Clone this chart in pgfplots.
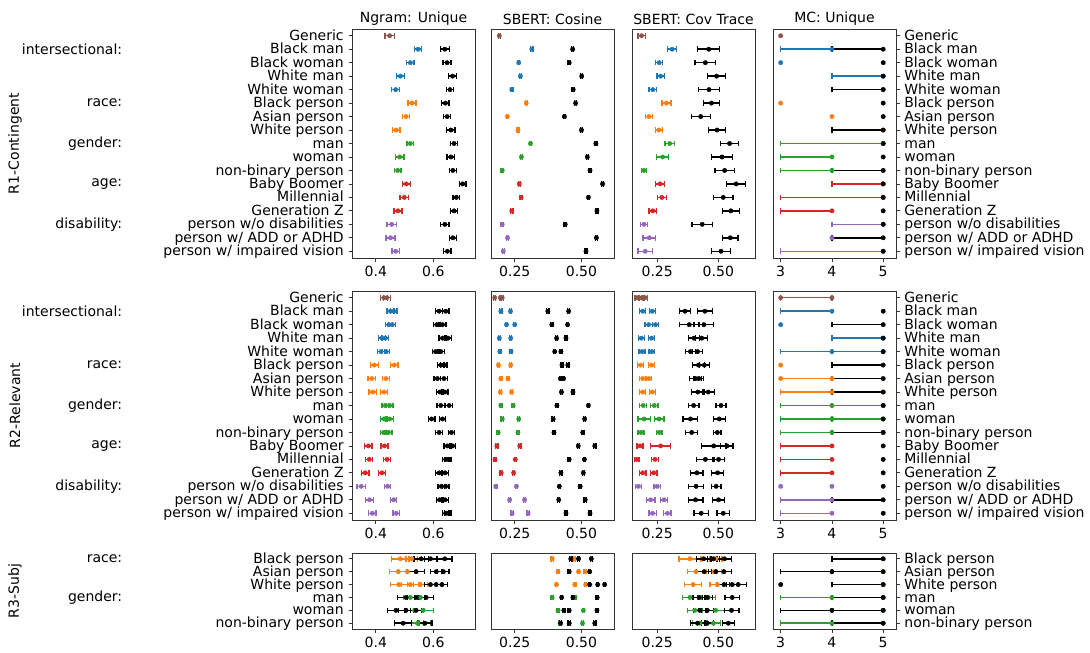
\documentclass[border=0pt]{standalone}
\usepackage{fontspec}
\setmainfont{DejaVu Sans}
\usepackage{pgfplots}
\pgfplotsset{compat=1.18}

\definecolor{tabblue}{HTML}{1F77B4}
\definecolor{taborange}{HTML}{FF7F0E}
\definecolor{tabgreen}{HTML}{2CA02C}
\definecolor{tabred}{HTML}{D62728}
\definecolor{tabpurple}{HTML}{9467BD}
\definecolor{tabbrown}{HTML}{8C564B}

\pgfplotsset{
  base/.style={scale only axis, width=123pt, y dir=reverse,
    tick align=outside, major tick length=3.5pt,
    axis line style={black!80, line width=0.8pt},
    tick style={black!80, line width=0.8pt},
    ytick=\empty, xtick pos=left,
    title style={yshift=-7pt},
    /pgf/number format/assume math mode=true,
    yticklabel style={text height=1.55ex, text depth=0.35ex}},
  r12/.style={height=229pt, ymin=-0.5, ymax=16.5},
  r3/.style={height=76pt, ymin=-0.45, ymax=5.45},
  c1/.style={xmin=0.317, xmax=0.745, xtick={0.4,0.6}, xticklabels={0.4,0.6}},
  c2/.style={xmin=0.161, xmax=0.622, xtick={0.25,0.5}, xticklabels={0.25,0.50}},
  c3/.style={xmin=0.147, xmax=0.65, xtick={0.25,0.5}, xticklabels={0.25,0.50}},
  c4/.style={xmin=2.85, xmax=5.25, xtick={3,4,5}, xticklabels={3,4,5},
    ytick pos=right, yticklabel pos=right},
  eb/.style={only marks, mark=*, mark size=2.2pt, color=#1,
    error bars/.cd, x dir=both, x explicit,
    error bar style={line width=1.5pt, #1},
    error mark options={line width=1.3pt, mark size=2.8pt, rotate=90, #1}},
}

\begin{document}
\fontsize{14}{16}\selectfont
\begin{tikzpicture}
\useasboundingbox (0,0) rectangle (1090pt,-653pt);

% ---------------- R1-Contingent ----------------
\begin{axis}[base, r12, c1, at={(352pt,-29pt)}, anchor=north west,
  title={Ngram: Unique}, ytick={0,...,16}, ytick pos=left,
  yticklabels={Generic,Black man,Black woman,White man,White woman,Black person,Asian person,White person,man,woman,non-binary person,Baby Boomer,Millennial,Generation Z,person w/o disabilities,person w/ ADD or ADHD,person w/ impaired vision}]
\addplot[eb=tabbrown] coordinates {(0.448,0) +- (0.016,0)};
\addplot[eb=tabblue] coordinates {(0.547,1) +- (0.012,0) (0.520,2) +- (0.013,0) (0.485,3) +- (0.014,0) (0.469,4) +- (0.014,0)};
\addplot[eb=taborange] coordinates {(0.526,5) +- (0.014,0) (0.505,6) +- (0.013,0) (0.471,7) +- (0.013,0)};
\addplot[eb=tabgreen] coordinates {(0.520,8) +- (0.012,0) (0.483,9) +- (0.015,0) (0.476,10) +- (0.011,0)};
\addplot[eb=tabred] coordinates {(0.506,11) +- (0.014,0) (0.499,12) +- (0.015,0) (0.477,13) +- (0.014,0)};
\addplot[eb=tabpurple] coordinates {(0.455,14) +- (0.016,0) (0.451,15) +- (0.016,0) (0.469,16) +- (0.013,0)};
\addplot[eb=black] coordinates {(0.640,1) +- (0.016,0) (0.648,2) +- (0.014,0) (0.667,3) +- (0.014,0) (0.658,4) +- (0.012,0)
  (0.642,5) +- (0.013,0) (0.648,6) +- (0.012,0) (0.661,7) +- (0.014,0) (0.672,8) +- (0.013,0) (0.661,9) +- (0.013,0)
  (0.668,10) +- (0.012,0) (0.702,11) +- (0.012,0) (0.680,12) +- (0.012,0) (0.672,13) +- (0.012,0) (0.640,14) +- (0.014,0)
  (0.668,15) +- (0.012,0) (0.649,16) +- (0.013,0)};
\end{axis}

\begin{axis}[base, r12, c2, at={(491pt,-29pt)}, anchor=north west, title={SBERT: Cosine}]
\addplot[eb=tabbrown] coordinates {(0.192,0) +- (0.004,0)};
\addplot[eb=tabblue] coordinates {(0.314,1) +- (0.004,0) (0.265,2) +- (0.004,0) (0.271,3) +- (0.004,0) (0.239,4) +- (0.004,0)};
\addplot[eb=taborange] coordinates {(0.293,5) +- (0.004,0) (0.222,6) +- (0.004,0) (0.262,7) +- (0.004,0)};
\addplot[eb=tabgreen] coordinates {(0.309,8) +- (0.004,0) (0.275,9) +- (0.004,0) (0.203,10) +- (0.004,0)};
\addplot[eb=tabred] coordinates {(0.267,11) +- (0.004,0) (0.274,12) +- (0.004,0) (0.239,13) +- (0.004,0)};
\addplot[eb=tabpurple] coordinates {(0.203,14) +- (0.004,0) (0.223,15) +- (0.004,0) (0.207,16) +- (0.004,0)};
\addplot[eb=black] coordinates {(0.467,1) +- (0.004,0) (0.454,2) +- (0.004,0) (0.501,3) +- (0.004,0) (0.469,4) +- (0.004,0)
  (0.478,5) +- (0.004,0) (0.436,6) +- (0.004,0) (0.500,7) +- (0.004,0) (0.554,8) +- (0.004,0) (0.522,9) +- (0.004,0)
  (0.532,10) +- (0.004,0) (0.579,11) +- (0.004,0) (0.526,12) +- (0.004,0) (0.558,13) +- (0.004,0) (0.439,14) +- (0.004,0)
  (0.556,15) +- (0.004,0) (0.517,16) +- (0.004,0)};
\end{axis}

\begin{axis}[base, r12, c3, at={(632pt,-29pt)}, anchor=north west, title={SBERT: Cov Trace}]
\addplot[eb=tabbrown] coordinates {(0.186,0) +- (0.015,0)};
\addplot[eb=tabblue] coordinates {(0.311,1) +- (0.018,0) (0.258,2) +- (0.015,0) (0.264,3) +- (0.015,0) (0.232,4) +- (0.015,0)};
\addplot[eb=taborange] coordinates {(0.288,5) +- (0.018,0) (0.216,6) +- (0.014,0) (0.257,7) +- (0.015,0)};
\addplot[eb=tabgreen] coordinates {(0.301,8) +- (0.019,0) (0.272,9) +- (0.024,0) (0.196,10) +- (0.010,0)};
\addplot[eb=tabred] coordinates {(0.262,11) +- (0.018,0) (0.269,12) +- (0.018,0) (0.232,13) +- (0.016,0)};
\addplot[eb=tabpurple] coordinates {(0.196,14) +- (0.014,0) (0.218,15) +- (0.026,0) (0.201,16) +- (0.030,0)};
\addplot[eb=black] coordinates {(0.461,1) +- (0.045,0) (0.447,2) +- (0.042,0) (0.493,3) +- (0.036,0) (0.462,4) +- (0.042,0)
  (0.472,5) +- (0.032,0) (0.428,6) +- (0.039,0) (0.495,7) +- (0.035,0) (0.546,8) +- (0.037,0) (0.515,9) +- (0.042,0)
  (0.526,10) +- (0.040,0) (0.573,11) +- (0.039,0) (0.520,12) +- (0.040,0) (0.551,13) +- (0.035,0) (0.434,14) +- (0.042,0)
  (0.549,15) +- (0.031,0) (0.511,16) +- (0.039,0)};
\end{axis}

\begin{axis}[base, r12, c4, at={(773pt,-29pt)}, anchor=north west, title={MC: Unique}, ytick={0,...,16},
  yticklabels={Generic,Black man,Black woman,White man,White woman,Black person,Asian person,White person,man,woman,non-binary person,Baby Boomer,Millennial,Generation Z,person w/o disabilities,person w/ ADD or ADHD,person w/ impaired vision}]
\addplot[eb=tabbrown] coordinates {(3,0)};
\addplot[eb=tabblue] coordinates {(4,1) -= (1,0) (3,2) (5,3) -= (1,0) (5,4) -= (1,0)};
\addplot[eb=taborange] coordinates {(3,5) (4,6) (5,7) -= (1,0)};
\addplot[eb=tabgreen] coordinates {(5,8) -= (2,0) (4,9) -= (1,0) (4,10) -= (1,0)};
\addplot[eb=tabred] coordinates {(5,11) -= (1,0) (5,12) -= (2,0) (4,13) -= (1,0)};
\addplot[eb=tabpurple] coordinates {(5,14) -= (1,0) (4,15) (5,16) -= (2,0)};
\addplot[eb=black] coordinates {(5,1) -= (1,0) (5,2) (5,3) (5,4) -= (1,0) (5,5) (5,6) (5,7) -= (1,0) (5,8) (5,9)
  (5,10) -= (1,0) (5,11) (5,12) (5,13) (5,14) (5,15) -= (1,0) (5,16)};
\end{axis}

% ---------------- R2-Relevant ----------------
\begin{axis}[base, r12, c1, at={(352pt,-291pt)}, anchor=north west, ytick={0,...,16}, ytick pos=left,
  yticklabels={Generic,Black man,Black woman,White man,White woman,Black person,Asian person,White person,man,woman,non-binary person,Baby Boomer,Millennial,Generation Z,person w/o disabilities,person w/ ADD or ADHD,person w/ impaired vision}]
\addplot[eb=tabbrown] coordinates {(0.428,0) +- (0.012,0) (0.438,0) +- (0.012,0)};
\addplot[eb=tabblue] coordinates {(0.451,1) +- (0.012,0) (0.462,1) +- (0.012,0) (0.445,2) +- (0.012,0) (0.457,2) +- (0.012,0)
  (0.421,3) +- (0.012,0) (0.433,3) +- (0.012,0) (0.418,4) +- (0.012,0) (0.436,4) +- (0.012,0)};
\addplot[eb=taborange] coordinates {(0.395,5) +- (0.013,0) (0.464,5) +- (0.013,0) (0.386,6) +- (0.013,0) (0.435,6) +- (0.013,0)
  (0.389,7) +- (0.013,0) (0.429,7) +- (0.012,0)};
\addplot[eb=tabgreen] coordinates {(0.433,8) +- (0.012,0) (0.448,8) +- (0.012,0) (0.429,9) +- (0.012,0) (0.448,9) +- (0.013,0)
  (0.427,10) +- (0.012,0) (0.444,10) +- (0.012,0)};
\addplot[eb=tabred] coordinates {(0.374,11) +- (0.013,0) (0.430,11) +- (0.012,0) (0.377,12) +- (0.012,0) (0.439,12) +- (0.012,0)
  (0.363,13) +- (0.013,0) (0.421,13) +- (0.012,0)};
\addplot[eb=tabpurple] coordinates {(0.349,14) +- (0.015,0) (0.441,14) +- (0.011,0) (0.378,15) +- (0.014,0) (0.462,15) +- (0.011,0)
  (0.388,16) +- (0.013,0) (0.471,16) +- (0.011,0)};
\addplot[eb=black] coordinates {(0.620,1) +- (0.013,0) (0.643,1) +- (0.012,0) (0.612,2) +- (0.012,0) (0.632,2) +- (0.012,0)
  (0.632,3) +- (0.012,0) (0.651,3) +- (0.012,0) (0.608,4) +- (0.012,0) (0.626,4) +- (0.012,0)
  (0.626,5) +- (0.011,0) (0.637,5) +- (0.011,0) (0.614,6) +- (0.012,0) (0.637,6) +- (0.012,0)
  (0.623,7) +- (0.011,0) (0.640,7) +- (0.011,0) (0.626,8) +- (0.013,0) (0.655,8) +- (0.012,0)
  (0.594,9) +- (0.012,0) (0.632,9) +- (0.010,0) (0.620,10) +- (0.013,0) (0.663,10) +- (0.011,0)
  (0.649,11) +- (0.012,0) (0.667,11) +- (0.011,0) (0.643,12) +- (0.011,0) (0.651,12) +- (0.011,0)
  (0.620,13) +- (0.012,0) (0.641,13) +- (0.012,0) (0.628,14) +- (0.012,0) (0.643,14) +- (0.012,0)
  (0.622,15) +- (0.012,0) (0.641,15) +- (0.011,0) (0.643,16) +- (0.011,0) (0.651,16) +- (0.011,0)};
\end{axis}

\begin{axis}[base, r12, c2, at={(491pt,-291pt)}, anchor=north west]
\addplot[eb=tabbrown] coordinates {(0.175,0) +- (0.004,0) (0.196,0) +- (0.004,0) (0.203,0) +- (0.004,0)};
\addplot[eb=tabblue] coordinates {(0.198,1) +- (0.004,0) (0.234,1) +- (0.004,0) (0.219,2) +- (0.004,0) (0.250,2) +- (0.004,0)
  (0.192,3) +- (0.004,0) (0.235,3) +- (0.004,0) (0.194,4) +- (0.004,0) (0.236,4) +- (0.004,0)};
\addplot[eb=taborange] coordinates {(0.189,5) +- (0.004,0) (0.235,5) +- (0.004,0) (0.198,6) +- (0.004,0) (0.225,6) +- (0.004,0)
  (0.196,7) +- (0.004,0) (0.238,7) +- (0.004,0)};
\addplot[eb=tabgreen] coordinates {(0.198,8) +- (0.004,0) (0.244,8) +- (0.004,0) (0.203,9) +- (0.004,0) (0.265,9) +- (0.004,0)
  (0.188,10) +- (0.004,0) (0.262,10) +- (0.004,0)};
\addplot[eb=tabred] coordinates {(0.183,11) +- (0.004,0) (0.269,11) +- (0.004,0) (0.176,12) +- (0.004,0) (0.252,12) +- (0.004,0)
  (0.199,13) +- (0.004,0) (0.246,13) +- (0.004,0)};
\addplot[eb=tabpurple] coordinates {(0.179,14) +- (0.004,0) (0.256,14) +- (0.004,0) (0.231,15) +- (0.004,0) (0.287,15) +- (0.004,0)
  (0.240,16) +- (0.004,0) (0.300,16) +- (0.004,0)};
\addplot[eb=black] coordinates {(0.374,1) +- (0.004,0) (0.452,1) +- (0.004,0) (0.389,2) +- (0.004,0) (0.448,2) +- (0.004,0)
  (0.407,3) +- (0.004,0) (0.442,3) +- (0.004,0) (0.400,4) +- (0.004,0) (0.423,4) +- (0.004,0)
  (0.427,5) +- (0.004,0) (0.449,5) +- (0.004,0) (0.421,6) +- (0.004,0) (0.433,6) +- (0.004,0)
  (0.425,7) +- (0.004,0) (0.468,7) +- (0.004,0) (0.408,8) +- (0.004,0) (0.526,8) +- (0.004,0)
  (0.394,9) +- (0.004,0) (0.512,9) +- (0.004,0) (0.397,10) +- (0.004,0) (0.505,10) +- (0.004,0)
  (0.488,11) +- (0.004,0) (0.550,11) +- (0.004,0) (0.454,12) +- (0.004,0) (0.511,12) +- (0.004,0)
  (0.423,13) +- (0.004,0) (0.507,13) +- (0.004,0) (0.417,14) +- (0.004,0) (0.495,14) +- (0.004,0)
  (0.415,15) +- (0.004,0) (0.514,15) +- (0.004,0) (0.442,16) +- (0.004,0) (0.532,16) +- (0.004,0)};
\end{axis}

\begin{axis}[base, r12, c3, at={(632pt,-291pt)}, anchor=north west]
\addplot[eb=tabbrown] coordinates {(0.169,0) +- (0.010,0) (0.186,0) +- (0.010,0) (0.200,0) +- (0.010,0)};
\addplot[eb=tabblue] coordinates {(0.191,1) +- (0.012,0) (0.230,1) +- (0.012,0) (0.215,2) +- (0.015,0) (0.243,2) +- (0.012,0)
  (0.185,3) +- (0.012,0) (0.227,3) +- (0.012,0) (0.188,4) +- (0.012,0) (0.228,4) +- (0.012,0)};
\addplot[eb=taborange] coordinates {(0.182,5) +- (0.012,0) (0.227,5) +- (0.012,0) (0.191,6) +- (0.013,0) (0.216,6) +- (0.012,0)
  (0.191,7) +- (0.012,0) (0.230,7) +- (0.012,0)};
\addplot[eb=tabgreen] coordinates {(0.193,8) +- (0.014,0) (0.238,8) +- (0.015,0) (0.197,9) +- (0.025,0) (0.258,9) +- (0.020,0)
  (0.184,10) +- (0.012,0) (0.258,10) +- (0.012,0)};
\addplot[eb=tabred] coordinates {(0.180,11) +- (0.012,0) (0.264,11) +- (0.040,0) (0.166,12) +- (0.010,0) (0.241,12) +- (0.013,0)
  (0.191,13) +- (0.013,0) (0.236,13) +- (0.013,0)};
\addplot[eb=tabpurple] coordinates {(0.173,14) +- (0.013,0) (0.250,14) +- (0.013,0) (0.223,15) +- (0.018,0) (0.278,15) +- (0.015,0)
  (0.231,16) +- (0.015,0) (0.292,16) +- (0.015,0)};
\addplot[eb=black] coordinates {(0.364,1) +- (0.023,0) (0.445,1) +- (0.030,0) (0.381,2) +- (0.040,0) (0.441,2) +- (0.040,0)
  (0.401,3) +- (0.022,0) (0.432,3) +- (0.025,0) (0.386,4) +- (0.020,0) (0.415,4) +- (0.020,0)
  (0.419,5) +- (0.025,0) (0.443,5) +- (0.020,0) (0.407,6) +- (0.025,0) (0.420,6) +- (0.020,0)
  (0.416,7) +- (0.025,0) (0.459,7) +- (0.025,0) (0.399,8) +- (0.022,0) (0.511,8) +- (0.020,0)
  (0.386,9) +- (0.030,0) (0.504,9) +- (0.025,0) (0.391,10) +- (0.025,0) (0.496,10) +- (0.015,0)
  (0.481,11) +- (0.050,0) (0.535,11) +- (0.025,0) (0.447,12) +- (0.035,0) (0.501,12) +- (0.025,0)
  (0.412,13) +- (0.025,0) (0.497,13) +- (0.025,0) (0.409,14) +- (0.030,0) (0.491,14) +- (0.020,0)
  (0.407,15) +- (0.030,0) (0.501,15) +- (0.025,0) (0.430,16) +- (0.030,0) (0.520,16) +- (0.025,0)};
\end{axis}

\begin{axis}[base, r12, c4, at={(773pt,-291pt)}, anchor=north west, ytick={0,...,16},
  yticklabels={Generic,Black man,Black woman,White man,White woman,Black person,Asian person,White person,man,woman,non-binary person,Baby Boomer,Millennial,Generation Z,person w/o disabilities,person w/ ADD or ADHD,person w/ impaired vision}]
\addplot[eb=tabbrown] coordinates {(3,0) += (1,0) (4,0) -= (1,0)};
\addplot[eb=tabblue] coordinates {(4,1) -= (1,0) (3,2) (5,3) -= (1,0) (4,4) -= (1,0) (5,4) -= (1,0)};
\addplot[eb=taborange] coordinates {(3,5) (3,6) += (1,0) (4,6) -= (1,0) (4,7) -= (1,0) (5,7) -= (1,0)};
\addplot[eb=tabgreen] coordinates {(4,8) -= (1,0) (5,8) -= (1,0) (4,9) -= (1,0) (5,9) -= (1,0) (4,10) -= (1,0) (5,10) -= (1,0)};
\addplot[eb=tabred] coordinates {(4,11) -= (1,0) (4,12) -= (1,0) (4,13) -= (1,0)};
\addplot[eb=tabpurple] coordinates {(3,14) (4,14) (4,15) -= (1,0) (4,16) -= (1,0)};
\addplot[eb=black] coordinates {(5,1) (5,2) -= (1,0) (5,3) (5,4) (5,5) -= (1,0) (5,6) -= (1,0) (5,7) -= (1,0) (5,8) (5,9)
  (5,10) -= (1,0) (5,11) (5,12) (5,13) (5,14) (5,15) -= (1,0) (5,16)};
\end{axis}

% ---------------- R3-Subj ----------------
\begin{axis}[base, r3, c1, at={(352pt,-553pt)}, anchor=north west, ytick={0,...,5}, ytick pos=left,
  yticklabels={Black person,Asian person,White person,man,woman,non-binary person}]
\addplot[eb=taborange] coordinates {(0.485,0) +- (0.030,0) (0.525,0) +- (0.020,0) (0.478,1) +- (0.030,0) (0.510,1) +- (0.030,0)
  (0.480,2) +- (0.030,0) (0.520,2) +- (0.030,0) (0.555,2) +- (0.025,0)};
\addplot[eb=tabgreen] coordinates {(0.520,3) +- (0.025,0) (0.555,3) +- (0.020,0) (0.535,4) +- (0.030,0) (0.565,4) +- (0.035,0)
  (0.545,5) +- (0.020,0) (0.570,5) +- (0.020,0)};
\addplot[eb=black] coordinates {(0.558,0) +- (0.025,0) (0.590,0) +- (0.020,0) (0.640,0) +- (0.025,0)
  (0.540,1) +- (0.030,0) (0.610,1) +- (0.020,0) (0.635,1) +- (0.020,0)
  (0.590,2) +- (0.020,0) (0.610,2) +- (0.020,0) (0.630,2) +- (0.020,0)
  (0.505,3) +- (0.030,0) (0.540,3) +- (0.030,0) (0.575,3) +- (0.025,0)
  (0.470,4) +- (0.030,0) (0.505,4) +- (0.025,0) (0.540,4) +- (0.020,0)
  (0.495,5) +- (0.030,0) (0.570,5) +- (0.025,0)};
\end{axis}

\begin{axis}[base, r3, c2, at={(491pt,-553pt)}, anchor=north west]
\addplot[eb=taborange] coordinates {(0.390,0) +- (0.004,0) (0.473,0) +- (0.004,0) (0.412,1) +- (0.004,0) (0.489,1) +- (0.004,0)
  (0.514,1) +- (0.004,0) (0.406,2) +- (0.004,0) (0.475,2) +- (0.004,0) (0.516,2) +- (0.004,0)};
\addplot[eb=tabgreen] coordinates {(0.390,3) +- (0.004,0) (0.476,3) +- (0.004,0) (0.412,4) +- (0.004,0) (0.507,4) +- (0.004,0)
  (0.420,5) +- (0.004,0) (0.504,5) +- (0.004,0)};
\addplot[eb=black] coordinates {(0.460,0) +- (0.004,0) (0.489,0) +- (0.004,0) (0.537,0) +- (0.004,0)
  (0.454,1) +- (0.004,0) (0.531,1) +- (0.004,0)
  (0.531,2) +- (0.004,0) (0.561,2) +- (0.004,0) (0.587,2) +- (0.004,0)
  (0.426,3) +- (0.004,0) (0.468,3) +- (0.004,0) (0.559,3) +- (0.004,0)
  (0.434,4) +- (0.004,0) (0.454,4) +- (0.004,0) (0.558,4) +- (0.004,0)
  (0.422,5) +- (0.004,0) (0.454,5) +- (0.004,0) (0.550,5) +- (0.004,0)};
\end{axis}

\begin{axis}[base, r3, c3, at={(632pt,-553pt)}, anchor=north west]
\addplot[eb=taborange] coordinates {(0.384,0) +- (0.045,0) (0.490,0) +- (0.025,0) (0.408,1) +- (0.035,0) (0.482,1) +- (0.030,0)
  (0.397,2) +- (0.035,0) (0.496,2) +- (0.030,0)};
\addplot[eb=tabgreen] coordinates {(0.384,3) +- (0.030,0) (0.459,3) +- (0.030,0) (0.404,4) +- (0.030,0) (0.489,4) +- (0.035,0)
  (0.425,5) +- (0.030,0) (0.480,5) +- (0.030,0)};
\addplot[eb=black] coordinates {(0.440,0) +- (0.030,0) (0.480,0) +- (0.025,0) (0.525,0) +- (0.030,0)
  (0.442,1) +- (0.030,0) (0.490,1) +- (0.030,0) (0.523,1) +- (0.030,0)
  (0.523,2) +- (0.030,0) (0.557,2) +- (0.025,0) (0.581,2) +- (0.035,0)
  (0.421,3) +- (0.025,0) (0.455,3) +- (0.020,0) (0.557,3) +- (0.030,0)
  (0.424,4) +- (0.025,0) (0.455,4) +- (0.025,0) (0.554,4) +- (0.030,0)
  (0.415,5) +- (0.030,0) (0.455,5) +- (0.025,0) (0.541,5) +- (0.025,0)};
\end{axis}

\begin{axis}[base, r3, c4, at={(773pt,-553pt)}, anchor=north west, ytick={0,...,5},
  yticklabels={Black person,Asian person,White person,man,woman,non-binary person}]
\addplot[eb=taborange] coordinates {(5,0) -= (1,0) (5,1) -= (1,0) (5,2) -= (1,0)};
\addplot[eb=tabgreen] coordinates {(4,3) -= (1,0) (5,3) -= (1,0) (4,4) -= (1,0) (5,4) -= (1,0) (4,5) -= (1,0) (5,5) -= (1,0)};
\addplot[eb=black] coordinates {(5,0) -= (1,0) (4,1) -= (1,0) (5,1) -= (1,0) (3,2) (5,2) -= (1,0)
  (5,3) -= (1,0) (4,4) -= (1,0) (5,4) -= (1,0) (5,5) -= (1,0)};
\end{axis}

% group and row labels
\node[anchor=east] at (127pt,-49.2pt) {intersectional:};
\node[anchor=east] at (127pt,-103.1pt) {race:};
\node[anchor=east] at (127pt,-143.5pt) {gender:};
\node[anchor=east] at (127pt,-183.9pt) {age:};
\node[anchor=east] at (127pt,-224.3pt) {disability:};
\node[anchor=east] at (127pt,-311.2pt) {intersectional:};
\node[anchor=east] at (127pt,-365.1pt) {race:};
\node[anchor=east] at (127pt,-405.5pt) {gender:};
\node[anchor=east] at (127pt,-445.9pt) {age:};
\node[anchor=east] at (127pt,-486.3pt) {disability:};
\node[anchor=east] at (127pt,-558.8pt) {race:};
\node[anchor=east] at (127pt,-597.4pt) {gender:};
\node[rotate=90] at (15pt,-143.5pt) {R1-Contingent};
\node[rotate=90] at (15pt,-405.5pt) {R2-Relevant};
\node[rotate=90] at (15pt,-591pt) {R3-Subj};
\end{tikzpicture}
\end{document}
